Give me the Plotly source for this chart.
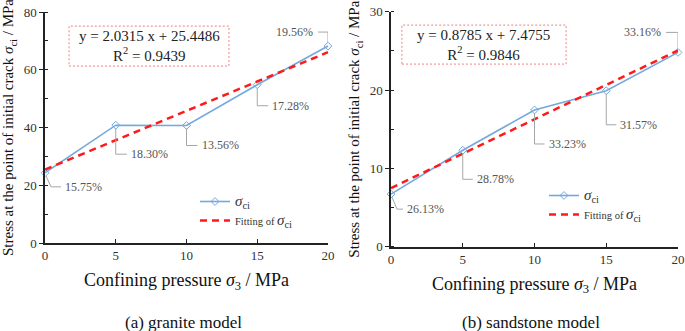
import plotly.graph_objects as go

# ---------------- data ----------------
confining = [0, 5, 10, 15, 20]
granite_sci = [24.3, 40.8, 40.7, 54.8, 68.2]
granite_pct = ["15.75%", "18.30%", "13.56%", "17.28%", "19.56%"]
granite_fit = (2.0315, 25.4486)
granite_r2 = 0.9439

sandstone_sci = [6.7, 12.3, 17.45, 19.9, 24.8]
sandstone_pct = ["26.13%", "28.78%", "33.23%", "31.57%", "33.16%"]
sandstone_fit = (0.8785, 7.4755)
sandstone_r2 = 0.9846

panel_titles = ["(a) granite model", "(b) sandstone model"]

# ---------------- style ----------------
FONT = "Times New Roman"
BLUE = "#74a9de"
RED = "#ff1a1a"
GREY_LINE = "#a6a6a6"
GREY_TXT = "#555555"

W, H = 685, 331
fig = go.Figure()

panels = [
    dict(x="x", y="y", xa="xaxis", ya="yaxis", leg="legend",
         ydata=granite_sci, pct=granite_pct, fit=granite_fit, r2=granite_r2,
         xdom=[45 / W, 328 / W], ydom=[1 - 243 / H, 1 - 12 / H],
         yrange=[0, 80], ydt=20, yminor=10,
         leaders=[("diag", 6, -14, 16), ("elbow", 0, -29, 11), ("elbow", 0, -20, 11),
                  ("elbow", 0, -21, 11), ("left", 0, 14, -10)],
         box=[0.085, 0.650, 0.766, 0.939]),
    dict(x="x2", y="y2", xa="xaxis2", ya="yaxis2", leg="legend2",
         ydata=sandstone_sci, pct=sandstone_pct, fit=sandstone_fit, r2=sandstone_r2,
         xdom=[391 / W, 678 / W], ydom=[1 - 246.6 / H, 1 - 11.7 / H],
         yrange=[0, 30], ydt=10, yminor=5,
         leaders=[("diag", 6, -15, 12), ("elbow", 0, -29, 10), ("elbow", 0, -34, 10),
                  ("elbow", 0, -34, 10), ("left", 0, 20, -12)],
         box=[0.038, 0.610, 0.777, 0.943]),
]

shapes = []
annotations = []

for i, p in enumerate(panels):
    slope, icpt = p["fit"]
    fit_y = [slope * x + icpt for x in confining]
    fig.add_trace(go.Scatter(
        x=confining, y=p["ydata"], mode="lines+markers",
        name="<span style='font-size:15px'><i>σ</i><sub>ci</sub></span>",
        line=dict(color=BLUE, width=1.6),
        marker=dict(symbol="diamond-open", size=6, color=BLUE, line=dict(width=1)),
        xaxis=p["x"], yaxis=p["y"], legend=p["leg"], cliponaxis=False))
    fig.add_trace(go.Scatter(
        x=[confining[0], confining[-1]], y=[fit_y[0], fit_y[-1]], mode="lines",
        name="Fitting of <span style='font-size:15px'><i>σ</i><sub>ci</sub></span>",
        line=dict(color=RED, width=2.5, dash="7px,5px"),
        xaxis=p["x"], yaxis=p["y"], legend=p["leg"], cliponaxis=False))

    for xv, yv, txt, ld in zip(confining, p["ydata"], p["pct"], p["leaders"]):
        kind, a, dy, dx = ld
        if kind == "diag":
            path = f"M 1 -3 L {a} {dy} L {dx} {dy}"
            tx, ty, xanc = dx + 2, dy, "left"
        elif kind == "elbow":
            path = f"M 0 -3 L 0 {dy} L {dx} {dy}"
            tx, ty, xanc = dx + 2, dy, "left"
        else:
            path = f"M 0 3 L 0 {dy} L {dx} {dy}"
            tx, ty, xanc = dx - 3, dy, "right"
        shapes.append(dict(type="path", xref=p["x"], yref=p["y"],
                           xsizemode="pixel", ysizemode="pixel",
                           xanchor=xv, yanchor=yv, path=path,
                           line=dict(color=GREY_LINE, width=1)))
        annotations.append(dict(x=xv, y=yv, xref=p["x"], yref=p["y"],
                                text=txt, showarrow=False, xanchor=xanc,
                                yanchor="middle", xshift=tx, yshift=ty,
                                font=dict(family=FONT, size=12, color=GREY_TXT)))

    bx0, bx1, by0, by1 = p["box"]
    dref = p["x"] + " domain"
    yref = p["y"] + " domain"
    shapes.append(dict(type="rect", xref=dref, yref=yref, x0=bx0, x1=bx1, y0=by0, y1=by1,
                       line=dict(color="#f08080", width=1, dash="2px,2px"),
                       fillcolor="rgba(0,0,0,0)"))
    annotations.append(dict(xref=dref, yref=yref, x=(bx0 + bx1) / 2, y=(by0 + by1) / 2,
                            text=f"y = {slope:.4f} x + {icpt:.4f}<br>R<sup>2</sup> = {p['r2']:.4f}",
                            showarrow=False, align="center", yanchor="middle",
                            xanchor="center",
                            font=dict(family=FONT, size=15, color="#222222")))

    annotations.append(dict(xref="paper", yref="paper",
                            x=(p["xdom"][0] + p["xdom"][1]) / 2 - 3.5 / W,
                            y=1 - 322 / H, text=panel_titles[i], showarrow=False,
                            xanchor="center", yanchor="middle",
                            font=dict(family=FONT, size=17, color="#111111")))

    axis_common = dict(showline=True, linecolor="#222222", linewidth=1.5,
                       showgrid=False, zeroline=False, mirror=False, automargin=False,
                       tickfont=dict(family=FONT, size=13, color="#333333"))
    fig.layout[p["xa"]] = dict(
        domain=p["xdom"], range=[0, 20], dtick=5, tick0=0, ticks="inside", ticklen=4,
        tickcolor="#222222", anchor=p["y"],
        title=dict(text="Confining pressure <i>σ</i><sub>3</sub> / MPa", standoff=11,
                   font=dict(family=FONT, size=18, color="#111111")),
        **axis_common)
    fig.layout[p["ya"]] = dict(
        domain=p["ydom"], range=p["yrange"], dtick=p["ydt"], tick0=0, ticks="outside",
        ticklen=4, tickcolor="#222222", anchor=p["x"],
        minor=dict(dtick=p["yminor"], ticks="inside", ticklen=3, tickcolor="#222222"),
        title=dict(text="Stress at the point of initial crack <i>σ</i><sub>ci</sub> / MPa",
                   standoff=6, font=dict(family=FONT, size=15, color="#111111")),
        **axis_common)

legend_common = dict(font=dict(family=FONT, size=10.5, color="#333333"),
                     bgcolor="rgba(0,0,0,0)", tracegroupgap=0, itemwidth=30,
                     xanchor="left", yanchor="top")
fig.update_layout(
    width=W, height=H, margin=dict(l=0, r=0, t=0, b=0, autoexpand=False),
    paper_bgcolor="white", plot_bgcolor="white",
    font=dict(family=FONT),
    shapes=shapes, annotations=annotations,
    legend=dict(x=195 / W, y=1 - 187 / H, **legend_common),
    legend2=dict(x=544 / W, y=1 - 181 / H, **legend_common),
)

fig.write_html("out.html", config={"displayModeBar": False},
               post_script="document.body.style.margin='0';")
